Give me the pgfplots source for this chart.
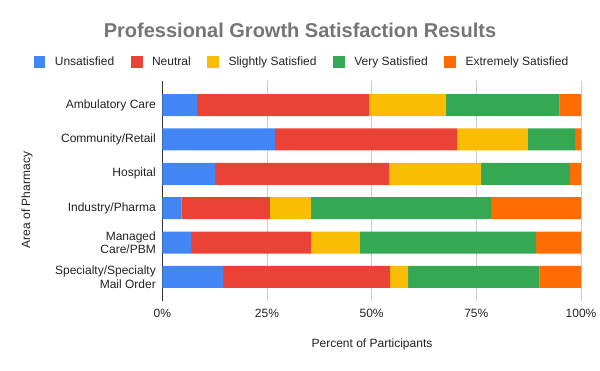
\documentclass[border=0pt]{standalone}
\usepackage{pgfplots}
\pgfplotsset{compat=1.18}
\usepackage{fontspec}
\setmainfont{Liberation Sans}
\definecolor{cUns}{HTML}{4285F4}
\definecolor{cNeu}{HTML}{EA4335}
\definecolor{cSli}{HTML}{FBBC04}
\definecolor{cVer}{HTML}{34A853}
\definecolor{cExt}{HTML}{FF6D01}
\definecolor{cGrid}{HTML}{CCCCCC}
\definecolor{cTxt}{HTML}{222222}
\definecolor{cTitle}{HTML}{757575}
\definecolor{cAxis}{HTML}{333333}
\begin{document}
\begin{tikzpicture}
\path[use as bounding box] (0,0) rectangle (600bp,371bp);
\begin{axis}[
  at={(162.3bp,70bp)}, anchor=south west,
  scale only axis, width=418.7bp, height=220bp,
  xbar stacked, bar width=22bp,
  xmin=0, xmax=100,
  ymin=-0.7, ymax=5.7, y dir=reverse,
  xtick={0,25,50,75,100},
  xticklabels={0\%,25\%,50\%,75\%,100\%},
  ytick={0,1,2,3,4,5},
  yticklabels={Ambulatory Care,Community/Retail,Hospital,Industry/Pharma,{Managed\\Care/PBM},{Specialty/Specialty\\Mail Order}},
  yticklabel style={align=right, inner sep=0pt, xshift=-6.3bp, font=\fontsize{12bp}{13.7bp}\selectfont, text=cTxt},
  xticklabel style={inner sep=0pt, yshift=-7.7bp, font=\fontsize{12bp}{14bp}\selectfont, text=cTxt},
  major tick length=0pt,
  xmajorgrids, grid style={cGrid, line width=0.8bp},
  separate axis lines,
  axis y line*=left, axis x line*=bottom,
  x axis line style={draw=none},
  y axis line style={cAxis, line width=1bp, -},
  legend columns=5,
  legend style={at={(0.3313,1.0877)}, anchor=center, draw=none, fill=none,
    nodes={inner sep=0pt, font=\fontsize{12bp}{14bp}\selectfont, text=cTxt},
    /tikz/every even column/.append style={column sep=16.7bp}},
  legend image code/.code={\fill[#1] (0bp,-5.85bp) rectangle (11.7bp,5.85bp); \path (21.1bp,0bp);},
  clip=false,
]
\addplot[fill=cUns, draw=none] coordinates {(8.3,0) (26.9,1) (12.6,2) (4.6,3) (6.9,4) (14.5,5)};
\addplot[fill=cNeu, draw=none] coordinates {(41.1,0) (43.5,1) (41.5,2) (21.1,3) (28.6,4) (39.9,5)};
\addplot[fill=cSli, draw=none] coordinates {(18.4,0) (16.9,1) (22.0,2) (9.8,3) (11.7,4) (4.3,5)};
\addplot[fill=cVer, draw=none] coordinates {(27.1,0) (11.3,1) (21.3,2) (43.0,3) (42.1,4) (31.4,5)};
\addplot[fill=cExt, draw=none] coordinates {(5.1,0) (1.4,1) (2.6,2) (21.5,3) (10.7,4) (9.9,5)};
\legend{Unsatisfied,Neutral,Slightly Satisfied,Very Satisfied,Extremely Satisfied}
\end{axis}
\node[text=cTitle, font=\fontsize{20bp}{24bp}\selectfont\bfseries] at (300bp,340.3bp) {Professional Growth Satisfaction Results};
\node[text=cTxt, font=\fontsize{12bp}{14bp}\selectfont] at (372bp,27bp) {Percent of Participants};
\node[text=cTxt, font=\fontsize{12bp}{14bp}\selectfont, rotate=90] at (27bp,171bp) {Area of Pharmacy};
\end{tikzpicture}
\end{document}
